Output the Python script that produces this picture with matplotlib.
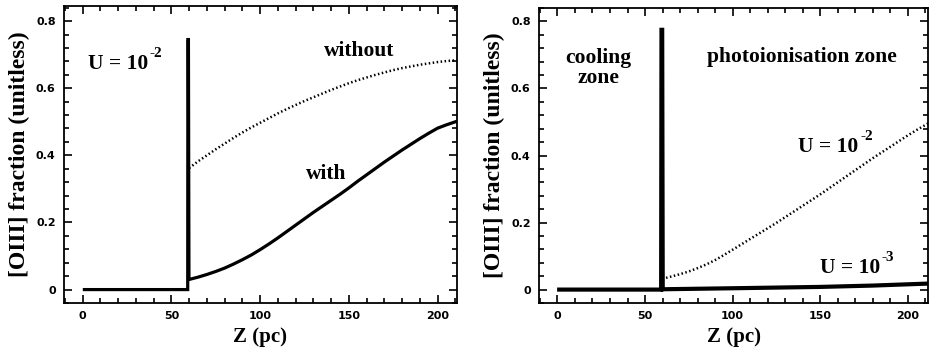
import matplotlib
matplotlib.use('Agg')
import matplotlib.pyplot as plt
from matplotlib.ticker import MultipleLocator

# left panel, U = 1e-2, with / without cooling zone
z_with = [1, 59.2, 59.3, 59.6, 59.9, 65, 70, 75, 80, 85, 90, 95, 100, 105,
          110, 115, 120, 125, 130, 135, 140, 145, 150, 155, 160, 165, 170,
          175, 180, 185, 190, 195, 200, 205, 210]
f_with = [0, 0, 0.745, 0.745, 0.030, 0.037, 0.045, 0.054, 0.064, 0.076,
          0.089, 0.103, 0.119, 0.136, 0.154, 0.173, 0.192, 0.211, 0.230,
          0.248, 0.266, 0.284, 0.303, 0.323, 0.342, 0.361, 0.380, 0.398,
          0.416, 0.433, 0.450, 0.466, 0.481, 0.491, 0.500]
z_without = [60, 65, 70, 75, 80, 85, 90, 95, 100, 105, 110, 115, 120, 125,
             130, 135, 140, 145, 150, 155, 160, 165, 170, 175, 180, 185, 190,
             195, 200, 205, 210]
f_without = [0.362, 0.382, 0.400, 0.418, 0.435, 0.452, 0.468, 0.483, 0.497,
             0.511, 0.525, 0.538, 0.550, 0.562, 0.573, 0.584, 0.595, 0.605,
             0.615, 0.624, 0.632, 0.640, 0.647, 0.654, 0.660, 0.665, 0.670,
             0.674, 0.678, 0.681, 0.683]

# right panel, U = 1e-3 (solid) and U = 1e-2 (dotted)
z_low = [1, 59.2, 59.4, 59.8, 60.1, 100, 150, 180, 212]
f_low = [0, 0, 0.775, 0.775, 0.001, 0.004, 0.008, 0.012, 0.018]
z_high = [62, 65, 70, 75, 80, 85, 90, 95, 100, 105, 110, 115, 120, 125, 130,
          135, 140, 145, 150, 155, 160, 165, 170, 175, 180, 185, 190, 195,
          200, 205, 210, 212]
f_high = [0.035, 0.039, 0.046, 0.054, 0.064, 0.075, 0.088, 0.103, 0.119,
          0.135, 0.151, 0.167, 0.183, 0.199, 0.216, 0.233, 0.250, 0.267,
          0.284, 0.302, 0.320, 0.338, 0.356, 0.374, 0.392, 0.409, 0.426,
          0.443, 0.460, 0.476, 0.491, 0.497]

xticks = [0, 50, 100, 150, 200]
yticks = [0, 0.2, 0.4, 0.6, 0.8]
ytick_labels = ['0', '0.2', '0.4', '0.6', '0.8']

serif = dict(family='Liberation Serif', weight='bold')
txt_size = 15.5


def style_axes(ax, xmax, ymax):
    ax.set_xlim(-10.5, xmax)
    ax.set_ylim(-0.04, ymax)
    ax.set_xticks(xticks)
    ax.set_yticks(yticks)
    ax.set_yticklabels(ytick_labels)
    ax.xaxis.set_minor_locator(MultipleLocator(10))
    ax.yaxis.set_minor_locator(MultipleLocator(0.04))
    ax.tick_params(which='both', direction='in', top=True, right=True,
                   width=1.2)
    ax.tick_params(which='major', length=6, pad=6)
    ax.tick_params(which='minor', length=3.5)
    for lbl in ax.get_xticklabels() + ax.get_yticklabels():
        lbl.set_family('DejaVu Sans')
        lbl.set_weight('bold')
        lbl.set_fontsize(8)
    for sp in ax.spines.values():
        sp.set_linewidth(1.3)
    ax.set_xlabel('Z (pc)', fontsize=15, labelpad=4, **serif)
    ax.set_ylabel('[OIII] fraction (unitless)', fontsize=17, labelpad=4,
                  **serif)


def u_label(ax, x, y, expo):
    # "U = 10" with a small raised exponent, hyphen style minus
    t = ax.text(x, y, 'U = 10', fontsize=txt_size, va='center', ha='left',
                **serif)
    ax.annotate(expo, xy=(1.0, 1.0), xycoords=t, xytext=(1.0, 0.5),
                textcoords='offset points', ha='left', va='center',
                fontsize=11, **serif)


fig = plt.figure(figsize=(9.3, 3.47), dpi=100)
ax1 = fig.add_axes([0.0688, 0.1268, 0.4226, 0.8559])
ax2 = fig.add_axes([0.5796, 0.1268, 0.4184, 0.8501])

ax1.plot(z_with, f_with, color='black', lw=2.3, solid_joinstyle='miter')
ax1.plot(z_without, f_without, color='black', lw=1.8, linestyle=(0, (0.6, 1.0)))
style_axes(ax1, 210.9, 0.845)
u_label(ax1, 3.2, 0.672, '-2')
ax1.text(156, 0.712, 'without', fontsize=txt_size, va='center', ha='center',
         **serif)
ax1.text(137, 0.345, 'with', fontsize=txt_size, va='center', ha='center',
         **serif)

ax2.plot(z_low, f_low, color='black', lw=3.0, solid_joinstyle='miter')
ax2.plot(z_high, f_high, color='black', lw=1.8, linestyle=(0, (0.6, 1.0)))
style_axes(ax2, 211.6, 0.84)
ax2.text(23.4, 0.662, 'cooling\nzone', fontsize=txt_size, va='center',
         ha='center', linespacing=1.0, **serif)
ax2.text(139.5, 0.695, 'photoionisation zone', fontsize=txt_size,
         va='center', ha='center', **serif)
u_label(ax2, 137.6, 0.425, '-2')
u_label(ax2, 150, 0.064, '-3')

fig.savefig('out.png', dpi=100)
